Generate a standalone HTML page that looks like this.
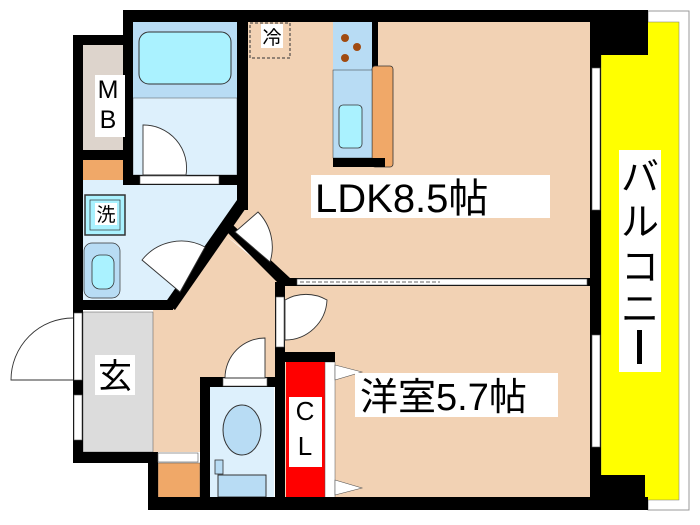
<!DOCTYPE html>
<html><head><meta charset="utf-8"><style>
html,body{margin:0;padding:0;background:#fff;width:700px;height:525px;overflow:hidden}
svg{display:block}
text{font-family:"Liberation Sans","Noto Sans CJK JP",sans-serif;fill:#000}
</style></head><body>
<svg width="700" height="525" viewBox="0 0 700 525" xmlns="http://www.w3.org/2000/svg">
<rect x="648" y="11" width="41" height="499" fill="#fff" stroke="#999" stroke-width="1"/>
<rect x="601" y="22" width="78" height="478" fill="#ffff00" stroke="#777" stroke-width="0.5"/>
<polygon points="248,22 590,22 590,278 282,278 225,235 243,212" fill="#f2d2b4"/>
<rect x="285" y="285" width="305" height="212" fill="#f2d2b4"/>
<polygon points="225,235 282,282 282,352 275,352 275,377 200,377 200,452 153,452 153,305 170,305" fill="#f2d2b4"/>
<rect x="133" y="22" width="104" height="76" fill="#b8dcf4"/>
<rect x="139" y="32" width="92" height="52" rx="10" fill="#aaf2ff" stroke="#333" stroke-width="1"/>
<rect x="133" y="98" width="104" height="77" fill="#ddf0fc" stroke="#555" stroke-width="0.5"/>
<rect x="83" y="45" width="40" height="105" fill="#ddd4cc"/>
<rect x="83" y="160" width="40" height="20" fill="#f0a868"/>
<polygon points="83,180 237,180 237,205 170,300 83,300" fill="#ddf0fc"/>
<rect x="85" y="195" width="40" height="40" fill="#aaf2ff" stroke="#333" stroke-width="1.5"/>
<rect x="90" y="200" width="30" height="30" fill="#aaf2ff" stroke="#333" stroke-width="0.7"/>
<rect x="95" y="203" width="22" height="22" fill="#fff"/>
<text x="106" y="221" font-size="19" text-anchor="middle">洗</text>
<rect x="84" y="243" width="36" height="55" rx="8" fill="#b8dcf4" stroke="#333" stroke-width="0.7"/>
<rect x="92" y="255" width="22" height="34" rx="8" fill="#aaf2ff" stroke="#333" stroke-width="0.8"/>
<rect x="83" y="312" width="70" height="140" fill="#dcdcdc" stroke="#555" stroke-width="0.5"/>
<rect x="95" y="355" width="40" height="40" fill="#fff"/>
<text x="115" y="388" font-size="34" text-anchor="middle">玄</text>
<rect x="158" y="463" width="42" height="40" fill="#f0a868" stroke="#555" stroke-width="0.5"/>
<rect x="210" y="387" width="64" height="116" fill="#ddf0fc"/>
<ellipse cx="242" cy="430" rx="19" ry="25" fill="#b8dcf4" stroke="#333" stroke-width="1"/>
<rect x="218" y="475" width="48" height="22" fill="#b8dcf4" stroke="#333" stroke-width="1"/>
<rect x="215" y="460" width="8" height="14" fill="#b8dcf4" stroke="#333" stroke-width="0.8"/>
<rect x="286" y="362" width="39" height="140" fill="#ff0000"/>
<rect x="325" y="362" width="10" height="140" fill="#fff" stroke="#555" stroke-width="0.5"/>
<rect x="289" y="397" width="33" height="70" fill="#fff"/>
<text x="305" y="420" font-size="26" text-anchor="middle">C</text>
<text x="305" y="455" font-size="26" text-anchor="middle">L</text>
<polygon points="335,365 362,372 335,380" fill="#fff" stroke="#555" stroke-width="0.6"/>
<polygon points="335,480 362,488 335,495" fill="#fff" stroke="#555" stroke-width="0.6"/>
<rect x="333" y="22" width="40" height="48" fill="#b8dcf4"/>
<circle cx="345" cy="38" r="4" fill="#a04a10"/><circle cx="357" cy="47" r="4" fill="#a04a10"/><circle cx="345" cy="58" r="4" fill="#a04a10"/>
<rect x="372" y="22" width="6" height="48" fill="#000"/>
<rect x="372" y="66" width="21" height="101" rx="3" fill="#f0a868" stroke="#333" stroke-width="0.8"/>
<rect x="333" y="70" width="39" height="88" fill="#b8dcf4" stroke="#333" stroke-width="0.5"/>
<rect x="339" y="105" width="23" height="43" rx="4" fill="#aaf2ff" stroke="#333" stroke-width="0.8"/>
<rect x="333" y="158" width="52" height="9" fill="#000"/>
<rect x="250" y="23" width="40" height="35" fill="none" stroke="#333" stroke-width="1" stroke-dasharray="3,2"/>
<rect x="261" y="24" width="22" height="24" fill="#fff"/>
<text x="272" y="44" font-size="19" text-anchor="middle">冷</text>
<g fill="#000">
<rect x="123" y="10" width="525" height="12"/>
<rect x="590" y="10" width="58" height="45"/>
<rect x="590" y="10" width="11" height="490"/>
<rect x="590" y="475" width="55" height="35"/>
<rect x="148" y="497" width="500" height="13"/>
<rect x="123" y="10" width="10" height="175"/>
<rect x="73" y="35" width="60" height="10"/>
<rect x="73" y="35" width="10" height="428"/>
<rect x="73" y="150" width="60" height="10"/>
<rect x="123" y="175" width="125" height="10"/>
<rect x="237" y="10" width="11" height="200"/>
<polygon points="237,200 248,205 175,310 165,303"/>
<rect x="73" y="300" width="100" height="10"/>
<polygon points="225,230 233,225 290,278 282,287"/>
<rect x="282" y="278" width="308" height="8"/>
<rect x="275" y="282" width="10" height="228"/>
<rect x="275" y="352" width="60" height="10"/>
<rect x="200" y="377" width="75" height="10"/>
<rect x="200" y="377" width="10" height="133"/>
<rect x="73" y="452" width="85" height="11"/>
<rect x="148" y="452" width="10" height="58"/>
</g>
<g fill="#fff" stroke="#555" stroke-width="0.6">
<rect x="140" y="176" width="79" height="8"/>
<rect x="74" y="313" width="8" height="67"/>
<rect x="74" y="395" width="8" height="45"/>
<rect x="276" y="297" width="8" height="50"/>
<rect x="223" y="378" width="44" height="8"/>
<rect x="592" y="68" width="8" height="142"/>
<rect x="592" y="335" width="8" height="112"/>
<rect x="297" y="279" width="290" height="6"/>
<rect x="158" y="453" width="40" height="9"/>
</g>
<line x1="300" y1="282" x2="440" y2="282" stroke="#333" stroke-width="0.8" stroke-dasharray="4,2"/>
<g fill="#fff" stroke="#333" stroke-width="0.9">
<path d="M143,125 A43,43 0 0 1 186,175 L143,175 Z"/>
<path d="M73,318 A62,62 0 0 0 11,380 L73,380"/>
<path d="M285,300 A42,42 0 0 1 327,300 A42,42 0 0 1 285,340 Z"/>
<path d="M265,338 L265,378 L225,378 A40,40 0 0 1 265,338 Z"/>
<path d="M205,247 A50,50 0 0 0 142,260 L180,292 Z"/>
<path d="M258,212 A50,50 0 0 1 270,262 L235,232 Z"/>
</g>
<rect x="95" y="75" width="30" height="62" fill="#fff"/>
<text x="108" y="98" font-size="25" text-anchor="middle">M</text>
<text x="108" y="128" font-size="25" text-anchor="middle">B</text>
<rect x="311" y="175" width="239" height="43" fill="#fff"/>
<text x="315" y="212" font-size="40">LDK8.5帖</text>
<rect x="355" y="373" width="203" height="44" fill="#fff"/>
<text x="360" y="410" font-size="38">洋室5.7帖</text>
<rect x="619" y="150" width="42" height="222" fill="#fff"/>
<text x="640" y="190" font-size="38" text-anchor="middle">バ</text>
<text x="640" y="235" font-size="38" text-anchor="middle">ル</text>
<text x="640" y="280" font-size="38" text-anchor="middle">コ</text>
<text x="640" y="322" font-size="38" text-anchor="middle">ニ</text>
<rect x="637" y="330" width="5" height="34" fill="#000"/>
</svg>
</body></html>
